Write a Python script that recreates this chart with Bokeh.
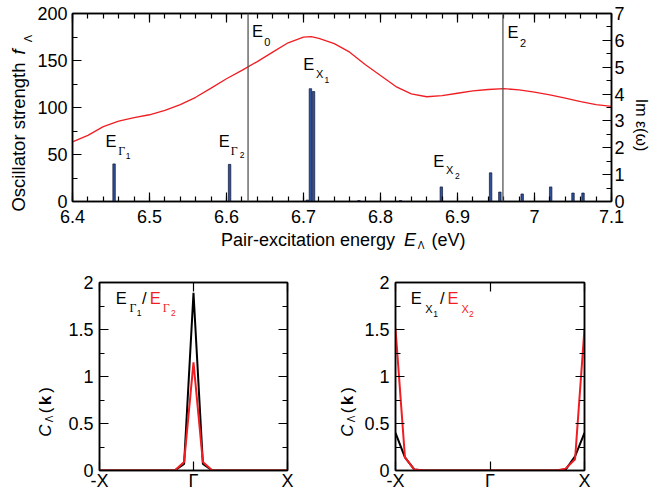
import math
from bokeh.plotting import figure
from bokeh.models import Range1d, LinearAxis, FixedTicker, Label, Span
from bokeh.layouts import column, row
from bokeh.embed import file_html
from bokeh.resources import INLINE

# ---------------- data ----------------
bar_energy = [6.454, 6.604, 6.705, 6.709, 6.713, 6.772, 6.826, 6.879, 6.943, 6.955, 6.984, 7.021, 7.050, 7.063]
bar_strength = [40, 39.5, 1.5, 120, 117, 1, 1, 15.5, 30.5, 10, 8, 15.5, 9, 9]

eps_energy = [6.40, 6.42, 6.44, 6.46, 6.48, 6.50, 6.52, 6.54, 6.56, 6.58, 6.60, 6.62, 6.64, 6.66, 6.68,
              6.70, 6.71, 6.72, 6.74, 6.76, 6.78, 6.80, 6.82, 6.84, 6.86, 6.88, 6.90, 6.92, 6.94, 6.96,
              6.98, 7.00, 7.02, 7.04, 7.06, 7.08, 7.10]
eps_imag = [2.22, 2.46, 2.79, 2.99, 3.12, 3.23, 3.39, 3.61, 3.88, 4.22, 4.57, 4.88, 5.21, 5.56, 5.91,
            6.12, 6.14, 6.07, 5.88, 5.56, 5.10, 4.69, 4.28, 4.01, 3.90, 3.94, 4.03, 4.12, 4.17, 4.20,
            4.16, 4.07, 3.97, 3.85, 3.72, 3.61, 3.54]

E0_energy = 6.628
E2_energy = 6.959

x_ticks = [6.4, 6.5, 6.6, 6.7, 6.8, 6.9, 7.0, 7.1]
x_tick_labels = ["6.4", "6.5", "6.6", "6.7", "6.8", "6.9", "7", "7.1"]
f_ticks = [0, 50, 100, 150, 200]
f_tick_labels = ["0", "50", "100", "150", "200"]
eps_ticks = [0, 1, 2, 3, 4, 5, 6, 7]
eps_tick_labels = ["0", "1", "2", "3", "4", "5", "6", "7"]

k_points = [-1.0, -0.9, -0.8, -0.7, -0.6, -0.5, -0.4, -0.3, -0.2, -0.1, 0.0,
            0.1, 0.2, 0.3, 0.4, 0.5, 0.6, 0.7, 0.8, 0.9, 1.0]
c_gamma1 = [0, 0, 0, 0, 0, 0, 0, 0, 0, 0.07, 1.89, 0.07, 0, 0, 0, 0, 0, 0, 0, 0, 0]
c_gamma2 = [0, 0, 0, 0, 0, 0, 0, 0, 0, 0.09, 1.15, 0.09, 0, 0, 0, 0, 0, 0, 0, 0, 0]
c_x1 = [0.40, 0.14, 0.01, 0, 0, 0, 0, 0, 0, 0, 0, 0, 0, 0, 0, 0, 0, 0, 0.01, 0.15, 0.40]
c_x2 = [1.51, 0.14, 0.01, 0, 0, 0, 0, 0, 0, 0, 0, 0, 0, 0, 0, 0, 0, 0, 0.02, 0.12, 1.51]

k_ticks = [-1, 0, 1]
k_tick_labels = ["-X", "Γ", "X"]
c_ticks = [0, 0.5, 1, 1.5, 2]
c_tick_labels = ["0", "0.5", "1", "1.5", "2"]

SANS = "Liberation Sans"
SERIF = "Liberation Serif"
RED = "#f01e23"


def style_axis(ax, ticks, minor, labels=None, size="18px", standoff=5):
    ax.ticker = FixedTicker(ticks=ticks, minor_ticks=minor)
    ax.major_tick_in = 9
    ax.major_tick_out = 0
    ax.minor_tick_in = 5
    ax.minor_tick_out = 0
    ax.axis_line_color = "black"
    ax.axis_line_width = 1.5
    ax.major_tick_line_color = "black"
    ax.major_tick_line_width = 1.2
    ax.minor_tick_line_color = "black"
    ax.minor_tick_line_width = 1.2
    if labels is None:
        ax.major_label_overrides = {t: "" for t in ticks}
        ax.major_label_text_font_size = "1px"
        ax.major_label_standoff = 0
    else:
        ax.major_label_overrides = {t: l for t, l in zip(ticks, labels)}
        ax.major_label_text_font = SANS
        ax.major_label_text_font_size = size
        ax.major_label_text_color = "black"
        ax.major_label_standoff = standoff


def put(p, conv, cx, cy, text, size, color="black", font=SANS, style="normal", angle=0.0):
    """Text centred on page pixel (cx, cy)."""
    x, y = conv(cx, cy)
    p.add_layout(Label(x=x, y=y, text=text, text_font=font, text_font_size=f"{size}px",
                       text_font_style=style, text_color=color, angle=angle,
                       text_align="center", text_baseline="middle"))


def strip(w, h, ox, oy):
    """A blank panel whose frame covers it, used to hold axis titles (page pixels)."""
    s = figure(frame_width=w, frame_height=h, min_border_left=0, min_border_right=0,
               min_border_top=0, min_border_bottom=0,
               x_range=Range1d(0, w), y_range=Range1d(h, 0),
               x_axis_location=None, y_axis_location=None,
               output_backend="svg", toolbar_location=None)
    s.outline_line_color = None
    s.xgrid.visible = False
    s.ygrid.visible = False
    s.background_fill_color = "white"
    s.border_fill_color = "white"
    return s, (lambda px, py: (px - ox, py - oy))


def peak_label(conv, fig, ex, ey, sub, idx, sx, sy, ix, iy, color="black", sub_font=SERIF,
               e_size=16.5, sub_size=12, idx_size=8.5):
    put(fig, conv, ex, ey, "E", e_size, color)
    put(fig, conv, sx, sy, sub, sub_size, color, font=sub_font)
    put(fig, conv, ix, iy, idx, idx_size, color)


# ---------------- top panel ----------------
LS_W = 34          # left title strip
TL, TT, TW, TH, TB, TR = 38, 13, 539, 188, 29, 16
RS_W = 652 - LS_W - TL - TW - TR
TOP_H = TT + TH + TB
XL_H = 250 - TOP_H

p = figure(frame_width=TW, frame_height=TH, min_border_left=TL, min_border_right=TR,
           min_border_top=TT, min_border_bottom=TB,
           x_range=Range1d(6.4, 7.1), y_range=Range1d(0, 200),
           output_backend="svg", toolbar_location=None)
p.extra_y_ranges = {"eps": Range1d(0, 7)}
p.xgrid.visible = False
p.ygrid.visible = False
p.outline_line_color = "black"
p.outline_line_width = 1.5
p.background_fill_color = "white"
p.border_fill_color = "white"

x_minor = [round(6.4 + 0.02 * i, 2) for i in range(36)]
style_axis(p.xaxis[0], x_ticks, x_minor, x_tick_labels, standoff=8)
style_axis(p.yaxis[0], f_ticks, [25 * i for i in range(9)], f_tick_labels, standoff=5)
ax_r = LinearAxis(y_range_name="eps")
style_axis(ax_r, eps_ticks, [0.5 * i for i in range(15)], eps_tick_labels, standoff=3)
p.add_layout(ax_r, "right")
ax_t = LinearAxis()
style_axis(ax_t, x_ticks, x_minor, None)
p.add_layout(ax_t, "above")

p.add_layout(Span(location=E0_energy, dimension="height", line_color="#555555", line_width=1.3))
p.add_layout(Span(location=E2_energy, dimension="height", line_color="#555555", line_width=1.3))
p.line(eps_energy, eps_imag, y_range_name="eps", line_color=RED, line_width=1.3)
p.vbar(x=bar_energy, top=bar_strength, width=0.0032, fill_color="#2f4f9f",
       line_color="#101830", line_width=0.7)

FL = LS_W + TL  # frame left in page pixels


def conv_top(px, py):
    return 6.4 + (px - FL) * 0.7 / TW, (TT + TH - py) * 200 / TH


peak_label(conv_top, p, 110.5, 140, "Γ", "1", 121.2, 150.3, 127.7, 155)
peak_label(conv_top, p, 223.8, 140, "Γ", "2", 233.8, 150.3, 241.5, 154.2)
peak_label(conv_top, p, 308.3, 63.3, "X", "1", 319.2, 73, 326.3, 79.2, sub_font=SANS, sub_size=11)
peak_label(conv_top, p, 438.3, 160.5, "X", "2", 449.2, 169.2, 456.8, 175.8, sub_font=SANS, sub_size=11)
put(p, conv_top, 257, 30.8, "E", 16.5)
put(p, conv_top, 266.7, 41.2, "0", 11)
put(p, conv_top, 512.5, 31.7, "E", 16.5)
put(p, conv_top, 522.5, 42.5, "2", 11)

# title strips around the top panel
sl, conv_sl = strip(LS_W, TOP_H, 0, 0)
put(sl, conv_sl, 17.5, 123.5, "Oscillator strength", 18.5, angle=math.pi / 2)
put(sl, conv_sl, 17.5, 38.5, "f", 18.5, style="italic", angle=math.pi / 2)
put(sl, conv_sl, 27.5, 25, "Λ", 11, angle=math.pi / 2)

RS_X0 = 652 - RS_W
sr, conv_sr = strip(RS_W, TOP_H, RS_X0, 0)
put(sr, conv_sr, 641, 111.5, "Im ε(ω)", 16, angle=-math.pi / 2)

sx, conv_sx = strip(652, XL_H, 0, TOP_H)
put(sx, conv_sx, 307.5, 239, "Pair-excitation energy", 18)
put(sx, conv_sx, 409.5, 239, "E", 18, style="italic")
put(sx, conv_sx, 420.5, 244.8, "Λ", 10)
put(sx, conv_sx, 448, 239, "(eV)", 18)

# ---------------- bottom panels ----------------
BT, BH, BB = 32, 188, 21
BOT_H = BT + BH + BB
Y0 = 250


def bottom_panel(left_b, right_b, fw, black_vals, red_vals):
    q = figure(frame_width=fw, frame_height=BH, min_border_left=left_b, min_border_right=right_b,
               min_border_top=BT, min_border_bottom=BB,
               x_range=Range1d(-1, 1), y_range=Range1d(0, 2),
               output_backend="svg", toolbar_location=None)
    q.xgrid.visible = False
    q.ygrid.visible = False
    q.outline_line_color = "black"
    q.outline_line_width = 1.5
    q.background_fill_color = "white"
    q.border_fill_color = "white"
    c_minor = [0.25 * i for i in range(9)]
    style_axis(q.xaxis[0], k_ticks, [], k_tick_labels, standoff=0)
    style_axis(q.yaxis[0], c_ticks, c_minor, c_tick_labels, standoff=6)
    ax_top = LinearAxis()
    style_axis(ax_top, k_ticks, [], None)
    q.add_layout(ax_top, "above")
    ax_right = LinearAxis()
    style_axis(ax_right, c_ticks, c_minor, None)
    q.add_layout(ax_right, "right")
    q.line(k_points, black_vals, line_color="black", line_width=2)
    q.line(k_points, red_vals, line_color=RED, line_width=2)
    return q


S1_W = 58
BL_L, BL_W, BL_R = 99 - S1_W, 188, 39
S2_X0 = S1_W + BL_L + BL_W + BL_R
S2_W = 358 - S2_X0
BR_L, BR_W = 395 - 358, 189
BR_R = 652 - 358 - BR_L - BR_W

bl = bottom_panel(BL_L, BL_R, BL_W, c_gamma1, c_gamma2)
br = bottom_panel(BR_L, BR_R, BR_W, c_x1, c_x2)


def conv_bl(px, py):
    return -1 + (px - 99) * 2 / BL_W, (Y0 + BT + BH - py) * 2 / BH


def conv_br(px, py):
    return -1 + (px - 395) * 2 / BR_W, (Y0 + BT + BH - py) * 2 / BH


# bl: E_Γ1 / E_Γ2
x0 = 115
peak_label(conv_bl, bl, x0 + 5.8, 297, "Γ", "1", x0 + 17.5, 307.5, x0 + 23.7, 312.5)
put(bl, conv_bl, x0 + 28.7, 297.5, "/", 16.5)
peak_label(conv_bl, bl, x0 + 39.7, 297, "Γ", "2", x0 + 50.8, 307.5, x0 + 57.8, 312.5, color=RED)
# br: E_X1 / E_X2
x0 = 410
peak_label(conv_br, br, x0 + 5.8, 297, "X", "1", x0 + 18.3, 308, x0 + 25, 313.5, sub_font=SANS, sub_size=11)
put(br, conv_br, x0 + 31.7, 297.5, "/", 16.5)
peak_label(conv_br, br, x0 + 42.5, 297, "X", "2", x0 + 54.7, 308, x0 + 60.8, 313.5, color=RED,
           sub_font=SANS, sub_size=11)

s1, conv_s1 = strip(S1_W, BOT_H, 0, Y0)
s2, conv_s2 = strip(S2_W, BOT_H, S2_X0, Y0)
for fig, conv, xc in [(s1, conv_s1, 45), (s2, conv_s2, 347)]:
    put(fig, conv, xc, 398, "C", 17, style="italic", angle=math.pi / 2)
    put(fig, conv, xc + 3.5, 386.5, "Λ", 10, angle=math.pi / 2)
    put(fig, conv, xc, 378, "(", 17, angle=math.pi / 2)
    put(fig, conv, xc, 368, "k", 17, style="bold", angle=math.pi / 2)
    put(fig, conv, xc, 357.5, ")", 17, angle=math.pi / 2)

layout = column(
    row(sl, p, sr, spacing=0),
    sx,
    row(s1, bl, s2, br, spacing=0),
    spacing=0,
)
open("out.html", "w").write(file_html(layout, INLINE))
